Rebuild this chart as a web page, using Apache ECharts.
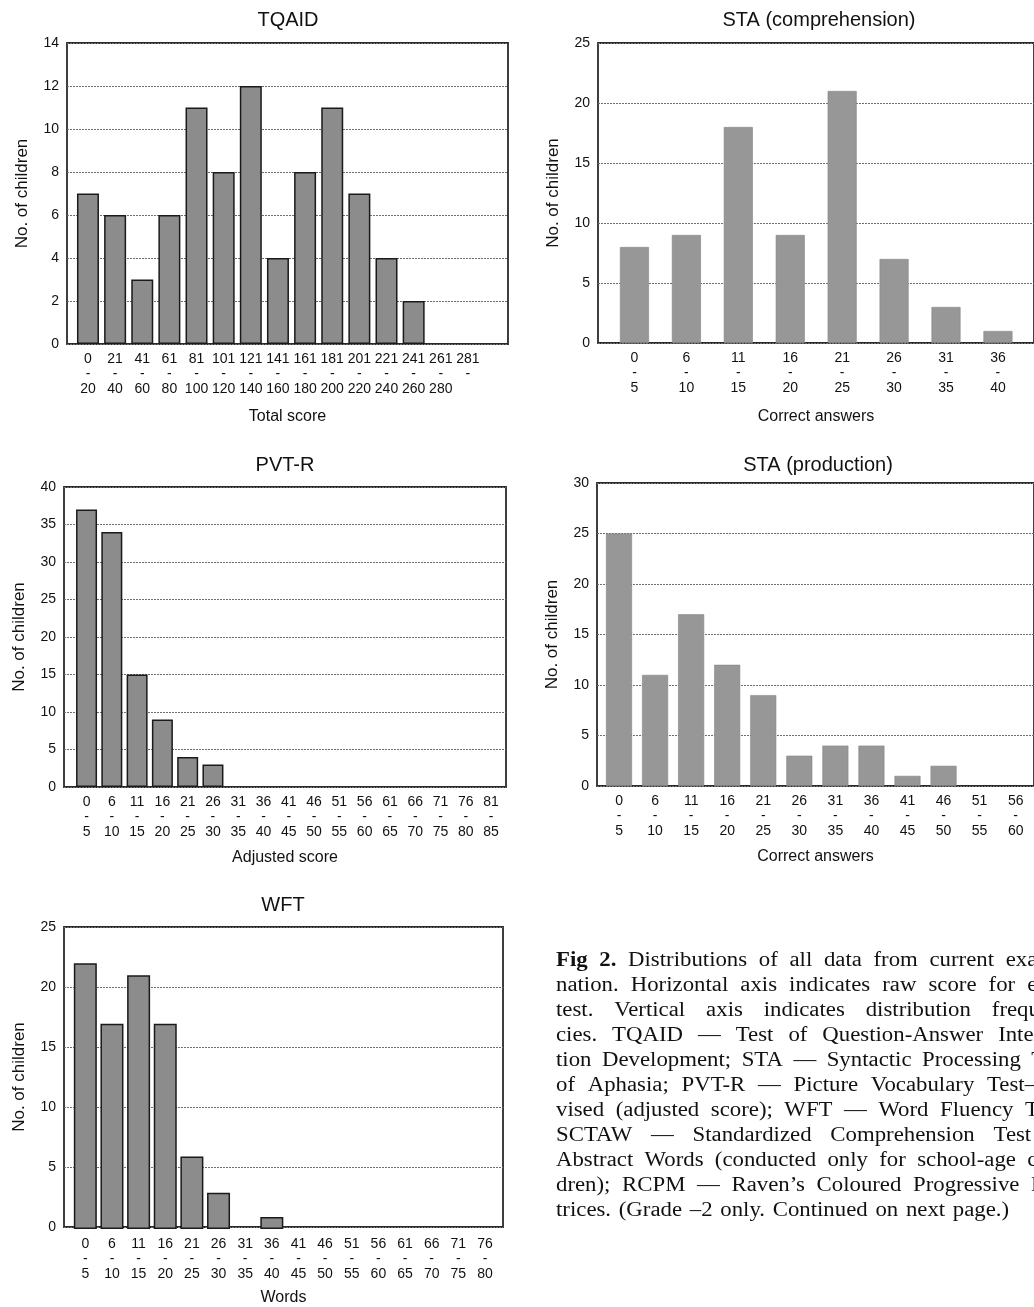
<!DOCTYPE html>
<html>
<head>
<meta charset="utf-8">
<title>Fig 2. Distributions</title>
<script src="https://cdn.jsdelivr.net/npm/echarts@6/dist/echarts.min.js"></script>
<style>
  html, body { margin: 0; padding: 0; background: #ffffff; }
  #chart { width: 1034px; height: 1307px; }
</style>
</head>
<body>
<div id="chart"></div>
<script>
// ---- data: score bins (lower / upper bound) and number of children per bin ----
const tqaidLow    = ['0', '21', '41', '61', '81', '101', '121', '141', '161', '181', '201', '221', '241', '261', '281'];
const tqaidHigh   = ['20', '40', '60', '80', '100', '120', '140', '160', '180', '200', '220', '240', '260', '280', ''];
const tqaidCounts = [7, 6, 3, 6, 11, 8, 12, 4, 8, 11, 7, 4, 2, 0, 0];

const staCompLow    = ['0', '6', '11', '16', '21', '26', '31', '36'];
const staCompHigh   = ['5', '10', '15', '20', '25', '30', '35', '40'];
const staCompCounts = [8, 9, 18, 9, 21, 7, 3, 1];

const pvtLow    = ['0', '6', '11', '16', '21', '26', '31', '36', '41', '46', '51', '56', '61', '66', '71', '76', '81'];
const pvtHigh   = ['5', '10', '15', '20', '25', '30', '35', '40', '45', '50', '55', '60', '65', '70', '75', '80', '85'];
const pvtCounts = [37, 34, 15, 9, 4, 3, 0, 0, 0, 0, 0, 0, 0, 0, 0, 0, 0];

const staProdLow    = ['0', '6', '11', '16', '21', '26', '31', '36', '41', '46', '51', '56'];
const staProdHigh   = ['5', '10', '15', '20', '25', '30', '35', '40', '45', '50', '55', '60'];
const staProdCounts = [25, 11, 17, 12, 9, 3, 4, 4, 1, 2, 0, 0];

const wftLow    = ['0', '6', '11', '16', '21', '26', '31', '36', '41', '46', '51', '56', '61', '66', '71', '76'];
const wftHigh   = ['5', '10', '15', '20', '25', '30', '35', '40', '45', '50', '55', '60', '65', '70', '75', '80'];
const wftCounts = [22, 17, 21, 17, 6, 3, 0, 1, 0, 0, 0, 0, 0, 0, 0, 0];

const captionLines = [
  'Fig 2. Distributions of all data from current exami-',
  'nation. Horizontal axis indicates raw score for each',
  'test. Vertical axis indicates distribution frequen-',
  'cies. TQAID \u2014 Test of Question-Answer Interac-',
  'tion Development; STA \u2014 Syntactic Processing Test',
  'of Aphasia; PVT-R \u2014 Picture Vocabulary Test\u2013Re-',
  'vised (adjusted score); WFT \u2014 Word Fluency Test;',
  'SCTAW \u2014 Standardized Comprehension Test of',
  'Abstract Words (conducted only for school-age chil-',
  'dren); RCPM \u2014 Raven\u2019s Coloured Progressive Ma-',
  'trices. (Grade \u20132 only. Continued on next page.)'
];

// ---- panel layout ----
// frame: plot box; bars: band occupied by the category axis inside the box
const panels = [
  { title: 'TQAID', xName: 'Total score', low: tqaidLow, high: tqaidHigh, counts: tqaidCounts,
    yMax: 14, yStep: 2, frame: { l: 67, t: 43, w: 441, h: 301 }, bars: { l: 74.4, w: 407.1 },
    titleX: 288, titleTop: 10, barW: 22, outlined: true, xNameGap: 65 },
  { title: 'STA (comprehension)', xName: 'Correct answers', low: staCompLow, high: staCompHigh, counts: staCompCounts,
    yMax: 25, yStep: 5, frame: { l: 598, t: 43, w: 442, h: 300 }, bars: { l: 608.5, w: 415.4 },
    titleX: 819, titleTop: 10, barW: 29, outlined: false, xNameGap: 66 },
  { title: 'PVT-R', xName: 'Adjusted score', low: pvtLow, high: pvtHigh, counts: pvtCounts,
    yMax: 40, yStep: 5, frame: { l: 64, t: 487, w: 442, h: 300 }, bars: { l: 73.9, w: 429.8 },
    titleX: 285, titleTop: 455, barW: 21, outlined: true, xNameGap: 63 },
  { title: 'STA (production)', xName: 'Correct answers', low: staProdLow, high: staProdHigh, counts: staProdCounts,
    yMax: 30, yStep: 5, frame: { l: 597, t: 483, w: 442, h: 303 }, bars: { l: 601, w: 432.7 },
    titleX: 818, titleTop: 455, barW: 26, outlined: false, xNameGap: 63 },
  { title: 'WFT', xName: 'Words', low: wftLow, high: wftHigh, counts: wftCounts,
    yMax: 25, yStep: 5, frame: { l: 64, t: 927, w: 439, h: 302 }, bars: { l: 72, w: 426.3 },
    titleX: 283, titleTop: 895, barW: 23, outlined: true, xNameGap: 63 }
];

const SANS = '"Liberation Sans", Arial, sans-serif';
const SERIF = '"Liberation Serif", "Times New Roman", serif';
const INK = '#111111';

const grids = [], xAxes = [], yAxes = [], series = [], titles = [];

panels.forEach(function (p) {
  // plot box with the count axis and its dotted reference lines
  const frameIdx = grids.length;
  grids.push({ left: p.frame.l, top: p.frame.t, width: p.frame.w, height: p.frame.h,
    show: true, borderColor: '#2a2a2a', borderWidth: 1.8, backgroundColor: 'transparent' });
  xAxes.push({ gridIndex: frameIdx, type: 'value', min: 0, max: 1,
    axisLine: { show: false }, axisTick: { show: false }, axisLabel: { show: false }, splitLine: { show: false },
    name: p.xName, nameLocation: 'middle', nameGap: p.xNameGap,
    nameTextStyle: { fontFamily: SANS, fontSize: 16, color: INK } });
  yAxes.push({ gridIndex: frameIdx, type: 'value', min: 0, max: p.yMax, interval: p.yStep,
    axisLine: { show: false }, axisTick: { show: false },
    axisLabel: { margin: 8, fontFamily: SANS, fontSize: 14, color: INK },
    splitLine: { show: true, lineStyle: { color: '#6e6e6e', width: 1, type: [2, 1] } },
    name: 'No. of children', nameLocation: 'middle', nameGap: 36,
    nameTextStyle: { fontFamily: SANS, fontSize: 17, color: INK } });

  // category band holding the bars and the bin labels
  const barIdx = grids.length;
  grids.push({ left: p.bars.l, top: p.frame.t, width: p.bars.w, height: p.frame.h, show: false });
  xAxes.push({ gridIndex: barIdx, type: 'category',
    data: p.low.map(function (lo, k) { return lo + '\n-\n' + p.high[k]; }),
    axisLine: { show: false }, axisTick: { show: false }, splitLine: { show: false },
    axisLabel: { interval: 0, margin: 8, fontFamily: SANS, fontSize: 14, lineHeight: 15, color: INK } });
  yAxes.push({ gridIndex: barIdx, type: 'value', min: 0, max: p.yMax, show: false, splitLine: { show: false } });

  // empty bins get no outline, so nothing is drawn on the baseline
  series.push({
    type: 'bar', name: p.title,
    xAxisIndex: xAxes.length - 1, yAxisIndex: yAxes.length - 1,
    data: p.counts.map(function (v) { return v === 0 ? { value: v, itemStyle: { borderWidth: 0 } } : v; }),
    barWidth: p.barW, z: 3,
    itemStyle: p.outlined
      ? { color: '#8c8c8c', borderColor: '#1a1a1a', borderWidth: 1.5 }
      : { color: '#979797', borderColor: '#858585', borderWidth: 0.6 }
  });

  titles.push({ text: p.title, left: p.titleX, top: p.titleTop, textAlign: 'center', padding: 0,
    textStyle: { fontFamily: SANS, fontSize: 20, fontWeight: 'normal', color: INK } });
});

// ---- caption: justified column of serif text beside the last panel ----
const CAP_SIZE = 20, CAP_SCALE = 1.14, CAP_LEFT = 556, CAP_WIDTH = 513, CAP_TOP = 961, CAP_LEAD = 25;
const measureCtx = document.createElement('canvas').getContext('2d');
function textWidth(str, bold) {
  measureCtx.font = (bold ? 'bold ' : '') + CAP_SIZE + 'px ' + SERIF;
  return measureCtx.measureText(str).width;
}
const captionChildren = [];
const colW = CAP_WIDTH / CAP_SCALE;
captionLines.forEach(function (line, li) {
  const words = line.split(' ');
  const bold = words.map(function (w, wi) { return li === 0 && wi < 2; });
  const widths = words.map(function (w, wi) { return textWidth(w, bold[wi]); });
  const total = widths.reduce(function (a, b) { return a + b; }, 0);
  const last = li === captionLines.length - 1;
  const gap = last ? textWidth(' ', false) * 1.35 : (colW - total) / (words.length - 1);
  let x = 0;
  words.forEach(function (w, wi) {
    captionChildren.push({
      type: 'text', x: x, y: CAP_TOP + li * CAP_LEAD,
      style: { text: w, fill: INK, verticalAlign: 'middle', align: 'left',
        font: (bold[wi] ? 'bold ' : '') + CAP_SIZE + 'px ' + SERIF }
    });
    x += widths[wi] + gap;
  });
});

const chart = echarts.init(document.getElementById('chart'), null, { renderer: 'canvas' });
chart.setOption({
  backgroundColor: '#ffffff',
  animation: false,
  title: titles,
  grid: grids,
  xAxis: xAxes,
  yAxis: yAxes,
  series: series,
  graphic: [{ type: 'group', x: CAP_LEFT, y: 0, scaleX: CAP_SCALE, scaleY: 1, children: captionChildren }]
});
</script>
</body>
</html>
